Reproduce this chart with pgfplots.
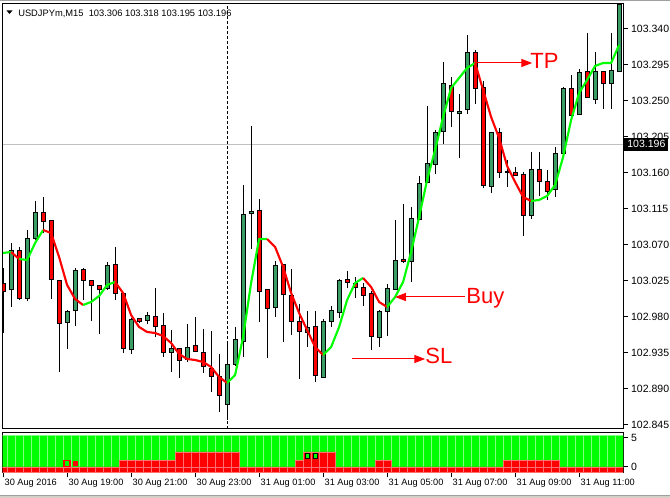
\documentclass[border=0pt]{standalone}
\usepackage{fontspec}
\setmainfont{Liberation Sans}
\usepackage{pgfplots}
\pgfplotsset{compat=1.18}
\usepackage{pgfplotstable}
\usetikzlibrary{arrows.meta}

\definecolor{cgreen}{HTML}{3A9E64}
\definecolor{lime}{HTML}{00FF00}
\definecolor{mtred}{HTML}{FF0000}
\definecolor{sepgreen}{HTML}{80FF80}
\definecolor{sepred}{HTML}{FF7070}

\pgfplotstableread{
k O H L C
0 103.02125 103.04125 102.96000 103.01125
1 103.01375 103.07250 102.99250 103.06250
2 103.06250 103.06750 103.00125 103.00250
3 103.00250 103.08875 103.00000 103.07750
4 103.07750 103.12500 103.07625 103.11000
5 103.11000 103.13000 103.08500 103.09875
6 103.10000 103.10000 103.00250 103.02625
7 103.02500 103.02500 102.91125 102.97125
8 102.97250 102.98875 102.94000 102.98625
9 102.98750 103.04125 102.96875 103.03750
10 103.03875 103.04125 103.00125 103.02500
11 103.02500 103.02500 102.97500 103.01875
12 103.01875 103.01875 102.95875 103.01375
13 103.01500 103.04875 103.01375 103.04375
14 103.04500 103.06750 103.00125 103.00875
15 103.00875 103.00875 102.93500 102.94000
16 102.93875 102.97875 102.93375 102.97625
17 102.97750 102.97875 102.97250 102.97375
18 102.97500 102.98625 102.97125 102.98125
19 102.98000 103.01625 102.95500 102.96750
20 102.96875 102.98500 102.93000 102.93500
21 102.93500 102.96375 102.91125 102.94000
22 102.94000 102.94125 102.90375 102.92500
23 102.92625 102.97125 102.92375 102.94125
24 102.94375 102.98000 102.93625 102.93625
25 102.93500 102.96500 102.91000 102.91750
26 102.91500 102.96250 102.88625 102.90500
27 102.90500 102.93375 102.86125 102.88125
28 102.87000 102.94875 102.85125 102.92000
29 102.92000 102.96750 102.91875 102.95125
30 102.94875 103.14500 102.93000 103.10750
31 103.10875 103.21875 103.06500 103.11125
32 103.11250 103.12750 102.97375 103.01125
33 103.01375 103.01375 102.92875 102.99000
34 102.99125 103.05000 102.98000 103.04375
35 103.04500 103.04500 102.94875 103.00750
36 103.00625 103.04000 102.95750 102.97375
37 102.97375 102.99625 102.90250 102.96125
38 102.96000 102.98750 102.94250 102.96625
39 102.96750 102.98750 102.89875 102.90625
40 102.90375 102.97750 102.90375 102.97375
41 102.97375 102.99375 102.96750 102.98750
42 102.98500 103.02750 102.97875 103.02500
43 103.02625 103.03750 103.01625 103.02250
44 103.02125 103.03000 103.00375 103.01625
45 103.01625 103.02250 102.99375 103.00625
46 103.00875 103.01250 102.93875 102.95500
47 102.95375 102.98875 102.94250 102.98625
48 102.98625 103.02125 102.95625 103.01500
49 103.01375 103.10125 103.01375 103.05000
50 103.05125 103.12125 103.04750 103.04875
51 103.04875 103.11750 103.02375 103.10250
52 103.10125 103.15625 103.10125 103.14625
53 103.14750 103.24375 103.14750 103.17125
54 103.17000 103.21375 103.15875 103.21000
55 103.21125 103.29875 103.19625 103.27125
56 103.26875 103.28000 103.21750 103.23625
57 103.23375 103.25875 103.17875 103.23625
58 103.23875 103.33250 103.23375 103.31000
59 103.31000 103.31375 103.24625 103.26500
60 103.26625 103.27500 103.14125 103.14375
61 103.14250 103.21000 103.13500 103.21000
62 103.21000 103.21625 103.15375 103.16000
63 103.16000 103.17625 103.14250 103.16125
64 103.16000 103.16750 103.15625 103.15625
65 103.15750 103.16125 103.08125 103.10625
66 103.10625 103.18625 103.10250 103.16375
67 103.16375 103.18625 103.13125 103.14875
68 103.14875 103.16375 103.12625 103.13625
69 103.13875 103.19250 103.13000 103.18375
70 103.18375 103.26750 103.18375 103.26500
71 103.26500 103.28250 103.22625 103.23125
72 103.23250 103.29000 103.23250 103.28500
73 103.28625 103.33500 103.25375 103.25375
74 103.25125 103.31125 103.24625 103.28625
75 103.28625 103.28625 103.24000 103.27125
76 103.27125 103.33500 103.24000 103.28750
77 103.28625 103.37100 103.28625 103.37100
}\candles

\pgfplotstableread{
k m
0 103.06000
1 103.06125
2 103.05250
3 103.05125
4 103.07250
5 103.08875
6 103.08500
7 103.05500
8 103.02000
9 103.00250
10 102.99500
11 102.99875
12 103.00625
13 103.02000
14 103.02375
15 103.01000
16 102.98250
17 102.96750
18 102.96125
19 102.96000
20 102.95625
21 102.94750
22 102.93375
23 102.92750
24 102.92625
25 102.92375
26 102.91750
27 102.90500
28 102.89750
29 102.90750
30 102.95500
31 103.02250
32 103.07750
33 103.07750
34 103.06750
35 103.04250
36 103.01000
37 102.98500
38 102.96375
39 102.94250
40 102.93250
41 102.94250
42 102.96750
43 103.00125
44 103.02250
45 103.02875
46 103.01750
47 102.99875
48 102.99250
49 103.00500
50 103.02375
51 103.06125
52 103.10500
53 103.15125
54 103.18875
55 103.23000
56 103.26625
57 103.27875
58 103.29125
59 103.29750
60 103.26375
61 103.23000
62 103.20375
63 103.16875
64 103.14875
65 103.13000
66 103.12500
67 103.12625
68 103.13125
69 103.14500
70 103.18000
71 103.22625
72 103.26000
73 103.27625
74 103.29375
75 103.29750
76 103.29750
77 103.32000
}\ma

\pgfplotstableread{
k g b
0 5.4 -0.95
1 5.4 -0.95
2 5.4 -0.95
3 5.4 -0.95
4 5.4 -0.95
5 5.4 -0.95
6 5.4 -0.95
7 5.4 -0.95
8 5.4 -0.95
9 5.4 -0.95
10 5.4 -0.95
11 5.4 -0.95
12 5.4 -0.95
13 5.4 -0.95
14 5.4 -0.95
15 5.4 -0.95
16 5.4 -0.95
17 5.4 -0.95
18 5.4 -0.95
19 5.4 -0.95
20 5.4 -0.95
21 5.4 -0.95
22 5.4 -0.95
23 5.4 -0.95
24 5.4 -0.95
25 5.4 -0.95
26 5.4 -0.95
27 5.4 -0.95
28 5.4 -0.95
29 5.4 -0.95
30 5.4 -0.95
31 5.4 -0.95
32 5.4 -0.95
33 5.4 -0.95
34 5.4 -0.95
35 5.4 -0.95
36 5.4 -0.95
37 5.4 -0.95
38 5.4 -0.95
39 5.4 -0.95
40 5.4 -0.95
41 5.4 -0.95
42 5.4 -0.95
43 5.4 -0.95
44 5.4 -0.95
45 5.4 -0.95
46 5.4 -0.95
47 5.4 -0.95
48 5.4 -0.95
49 5.4 -0.95
50 5.4 -0.95
51 5.4 -0.95
52 5.4 -0.95
53 5.4 -0.95
54 5.4 -0.95
55 5.4 -0.95
56 5.4 -0.95
57 5.4 -0.95
58 5.4 -0.95
59 5.4 -0.95
60 5.4 -0.95
61 5.4 -0.95
62 5.4 -0.95
63 5.4 -0.95
64 5.4 -0.95
65 5.4 -0.95
66 5.4 -0.95
67 5.4 -0.95
68 5.4 -0.95
69 5.4 -0.95
70 5.4 -0.95
71 5.4 -0.95
72 5.4 -0.95
73 5.4 -0.95
74 5.4 -0.95
75 5.4 -0.95
76 5.4 -0.95
77 5.4 -0.95
}\ind

\pgfplotstableread{
k r
15 1.2
16 1.2
17 1.2
18 1.2
19 1.2
20 1.2
21 1.2
22 2.6
23 2.6
24 2.6
25 2.6
26 2.6
27 2.6
28 2.6
29 2.6
37 1.2
38 2.6
39 2.6
40 2.6
41 2.6
47 1.2
48 1.2
63 1.2
64 1.2
65 1.2
66 1.2
67 1.2
68 1.2
69 1.2
}\indred

\begin{document}
\begin{tikzpicture}
% ---------------- main price panel ----------------
\begin{axis}[
  at={(2.025pt,51.75pt)}, anchor=south west,
  scale only axis, width=465.3pt, height=318.75pt,
  xmin=-0.05, xmax=77.5, ymin=102.84, ymax=103.37125,
  axis line style={black, line width=0.75pt},
  xtick=\empty,
  ytick={102.845,102.890,102.935,102.980,103.025,103.070,103.115,103.160,103.205,103.250,103.295,103.340},
  yticklabels={102.845,102.890,102.935,102.980,103.025,103.070,103.115,103.160,103.205,103.250,103.295,103.340},
  ytick pos=right, yticklabel pos=right,
  tick align=outside, major tick length=3.75pt,
  tick style={black, line width=0.75pt},
  yticklabel style={font=\fontsize{7.9}{9}\selectfont, inner sep=1pt, xshift=1pt},
]
\addplot[color={rgb,255:red,192;green,192;blue,192}, line width=0.75pt, forget plot] coordinates {(-0.05,103.196) (77.5,103.196)};
\addplot[black, line width=0.75pt, dash pattern=on 2.25pt off 1.5pt, forget plot] coordinates {(28.1,102.84) (28.1,103.37125)};

\pgfplotsinvokeforeach{0,...,77}{
  \pgfplotstablegetelem{#1}{O}\of\candles\let\cO\pgfplotsretval
  \pgfplotstablegetelem{#1}{H}\of\candles\let\cH\pgfplotsretval
  \pgfplotstablegetelem{#1}{L}\of\candles\let\cL\pgfplotsretval
  \pgfplotstablegetelem{#1}{C}\of\candles\let\cC\pgfplotsretval
  \pgfmathsetmacro\xl{#1-0.25}
  \pgfmathsetmacro\xr{#1+0.25}
  \edef\wick{\noexpand\addplot[black, line width=0.75pt, forget plot] coordinates {(#1,\cL) (#1,\cH)};}\wick
  \ifdim\cC pt<\cO pt
    \edef\body{\noexpand\addplot[fill=mtred, draw=black, line width=0.75pt, forget plot] coordinates {(\xl,\cO) (\xr,\cO) (\xr,\cC) (\xl,\cC)} -- cycle;}\body
  \else
    \edef\body{\noexpand\addplot[fill=cgreen, draw=black, line width=0.75pt, forget plot] coordinates {(\xl,\cO) (\xr,\cO) (\xr,\cC) (\xl,\cC)} -- cycle;}\body
  \fi
}

% moving-average line, coloured by direction
\pgfplotsset{magreen/.style={lime, line width=1.6pt, line join=round, forget plot},
             mared/.style={mtred, line width=1.6pt, line join=round, forget plot}}
\addplot[magreen, restrict x to domain=0:1] table[x=k,y=m]{\ma};
\addplot[mared, restrict x to domain=1:2] table[x=k,y=m]{\ma};
\addplot[magreen, restrict x to domain=2:5] table[x=k,y=m]{\ma};
\addplot[mared, restrict x to domain=5:10] table[x=k,y=m]{\ma};
\addplot[magreen, restrict x to domain=10:14] table[x=k,y=m]{\ma};
\addplot[mared, restrict x to domain=14:28] table[x=k,y=m]{\ma};
\addplot[magreen, restrict x to domain=28:33] table[x=k,y=m]{\ma};
\addplot[mared, restrict x to domain=33:40] table[x=k,y=m]{\ma};
\addplot[magreen, restrict x to domain=40:45] table[x=k,y=m]{\ma};
\addplot[mared, restrict x to domain=45:48] table[x=k,y=m]{\ma};
\addplot[magreen, restrict x to domain=48:59] table[x=k,y=m]{\ma};
\addplot[mared, restrict x to domain=59:66] table[x=k,y=m]{\ma};
\addplot[magreen, restrict x to domain=66:77] table[x=k,y=m]{\ma};

% annotations
\draw[mtred, line width=0.75pt, -{Triangle[length=8pt,width=6pt]}] (axis cs:59,103.2975) -- (axis cs:66.125,103.2975);
\node[mtred, anchor=base west, inner sep=0pt, font=\fontsize{16.5}{18}\selectfont] at (axis cs:65.875,103.29) {TP};
\draw[mtred, line width=0.75pt, -{Triangle[length=8pt,width=6pt]}] (axis cs:57.75,103.005) -- (axis cs:49,103.005);
\node[mtred, anchor=base west, inner sep=0pt, font=\fontsize{16.5}{18}\selectfont] at (axis cs:57.875,102.99625) {Buy};
\draw[mtred, line width=0.75pt, -{Triangle[length=8pt,width=6pt]}] (axis cs:43.66,102.9275) -- (axis cs:52.75,102.9275);
\node[mtred, anchor=base west, inner sep=0pt, font=\fontsize{16.5}{18}\selectfont] at (axis cs:52.75,102.92125) {SL};
\coordinate (bid) at (axis cs:77.5,103.196);
\end{axis}

% ---------------- indicator panel ----------------
\begin{axis}[
  at={(2.025pt,19.125pt)}, anchor=south west,
  scale only axis, width=465.3pt, height=30pt,
  xmin=-0.05, xmax=77.5, ymin=-0.95, ymax=5.947,
  axis line style={black, line width=0.75pt},
  xtick={0,8,16,24,32,40,48,56,64,72},
  xticklabels={30 Aug 2016,30 Aug 19:00,30 Aug 21:00,30 Aug 23:00,31 Aug 01:00,31 Aug 03:00,31 Aug 05:00,31 Aug 07:00,31 Aug 09:00,31 Aug 11:00},
  xtick pos=bottom, ytick pos=right, yticklabel pos=right,
  ytick={0,5}, yticklabels={0,5},
  tick align=outside, major tick length=3.75pt,
  tick style={black, line width=0.75pt},
  xticklabel style={anchor=north west, font=\fontsize{6.9}{8}\selectfont, inner sep=1pt},
  yticklabel style={font=\fontsize{7.9}{9}\selectfont, inner sep=1pt, xshift=1pt},
]
\addplot[ybar, bar width=1, bar shift=0pt, fill=lime, draw=sepgreen, line width=0.45pt, forget plot] table[x=k,y=g]{\ind};
\addplot[ybar, bar width=1, bar shift=0pt, fill=mtred, draw=sepred, line width=0.45pt, forget plot] table[x=k,y=b]{\ind};
\addplot[ybar, bar width=1, bar shift=0pt, fill=mtred, draw=sepred, line width=0.45pt, forget plot] table[x=k,y=r]{\indred};
\addplot[only marks, mark=square*, mark size=2.2pt, mark options={fill=lime, draw=mtred, line width=1.1pt}, forget plot] coordinates {(8,0.63)};
\addplot[only marks, mark=square*, mark size=1.5pt, mark options={fill=mtred, draw=mtred}, forget plot] coordinates {(9,0.6)};
\addplot[only marks, mark=square*, mark size=1.7pt, mark options={fill=lime, draw=none}, forget plot] coordinates {(38,1.98) (39,1.98)};
\end{axis}

% ---------------- overlays ----------------
\fill (4.875pt,365.625pt) -- (9.375pt,365.625pt) -- (7.125pt,363pt) -- cycle;
\node[anchor=base west, inner sep=0pt, font=\fontsize{7}{8}\selectfont] at (13.5pt,361.3pt) {USDJPYm,M15\ \ 103.306 103.318 103.195 103.196};
\node[fill=black, text=white, anchor=west, inner xsep=2.25pt, inner ysep=0pt, minimum height=9.75pt, font=\fontsize{7.9}{9}\selectfont, xshift=0.75pt] at (bid) {103.196};
\draw[color={rgb,255:red,160;green,160;blue,160}, line width=1.2pt] (0,373.5pt) -- (502.5pt,373.5pt);
\fill[color={rgb,255:red,212;green,208;blue,200}] (0,0) rectangle (502.5pt,2pt);
\draw[color={rgb,255:red,160;green,160;blue,160}, line width=0.75pt] (0,2pt) -- (502.5pt,2pt);
\pgfresetboundingbox
\path[use as bounding box] (0,0) rectangle (502.5pt,373.5pt);
\end{tikzpicture}
\end{document}
